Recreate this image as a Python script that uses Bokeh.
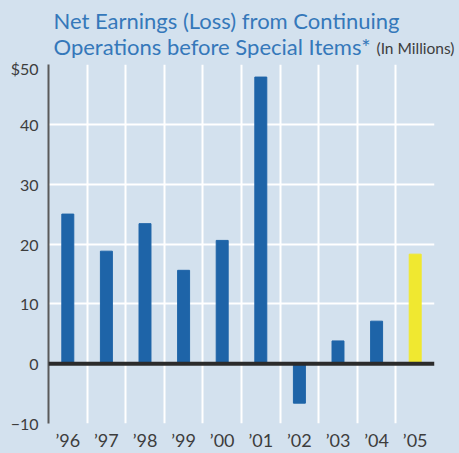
from bokeh.plotting import figure
from bokeh.layouts import column
from bokeh.models import Range1d, FixedTicker, Span, Label, ColumnDataSource
from bokeh.embed import file_html
from bokeh.resources import INLINE

years = ["’96", "’97", "’98", "’99", "’00", "’01", "’02", "’03", "’04", "’05"]
earnings = [25.0, 18.8, 23.4, 15.6, 20.6, 47.9, -6.6, 3.8, 7.1, 18.3]
bar_colors = ["#1e64a8"] * 9 + ["#f0e830"]
y_ticks = [-10, 0, 10, 20, 30, 40, 50]
y_tick_labels = {50: "$50"}
title_line1 = "Net Earnings (Loss) from Continuing"
title_line2 = "Operations before Special Items*"
unit_note = "(In Millions)"

BG = "#d3e1ee"
W = 459
TH = 58

# ---- title strip (its own figure, so the texts are not clipped) ----
t = figure(width=W, height=TH, output_backend="svg", toolbar_location=None, title=None,
           x_range=Range1d(0, W), y_range=Range1d(TH, 0),
           min_border=0, x_axis_type=None, y_axis_type=None)
t.frame_align = False
t.background_fill_color = BG
t.border_fill_color = BG
t.outline_line_color = None
t.grid.visible = False
title_color = "#3578ba"
t.add_layout(Label(x=53, y=20, text=title_line1, text_font="Lato", text_font_size="22px",
                   text_color=title_color, text_baseline="middle"))
t.add_layout(Label(x=53, y=45.5, text=title_line2, text_font="Lato", text_font_size="22px",
                   text_color=title_color, text_baseline="middle"))
t.add_layout(Label(x=376, y=47.5, text=unit_note, text_font="Lato", text_font_size="15.5px",
                   text_color="#3d3d3d", text_baseline="middle"))

# ---- main chart ----
xs = [i + 0.5 for i in range(len(years))]
src = ColumnDataSource(dict(x=xs, top=earnings, color=bar_colors))

p = figure(width=W, height=453 - TH, output_backend="svg", toolbar_location=None, title=None,
           x_range=Range1d(0, len(years)), y_range=Range1d(-10, 50),
           min_border_left=48, min_border_right=25, min_border_top=6, min_border_bottom=28)
p.frame_align = False
p.background_fill_color = BG
p.border_fill_color = BG
p.outline_line_color = None

p.xgrid.ticker = FixedTicker(ticks=list(range(len(years) + 1)))
p.ygrid.ticker = FixedTicker(ticks=y_ticks)
for g in (p.xgrid, p.ygrid):
    g.grid_line_color = "white"
    g.grid_line_width = 2

p.vbar(x="x", top="top", bottom=0, width=0.31, color="color", source=src)

p.add_layout(Span(location=0, dimension="width", line_color="#2b2b2b", line_width=4))

p.yaxis.ticker = FixedTicker(ticks=y_ticks)
p.yaxis.major_label_overrides = {k: v for k, v in y_tick_labels.items()}
p.yaxis.axis_line_color = "#5a5a5a"
p.yaxis.axis_line_width = 2
p.yaxis.major_tick_line_color = None
p.yaxis.minor_tick_line_color = None
p.yaxis.major_tick_out = 0
p.yaxis.major_tick_in = 0
p.yaxis.major_label_text_font = "Lato"
p.yaxis.major_label_text_font_size = "16px"
p.yaxis.major_label_text_color = "#3d3d3d"
p.yaxis.major_label_standoff = 10

p.xaxis.ticker = FixedTicker(ticks=xs)
p.xaxis.major_label_overrides = {x: y for x, y in zip(xs, years)}
p.xaxis.axis_line_color = None
p.xaxis.major_tick_line_color = None
p.xaxis.minor_tick_line_color = None
p.xaxis.major_tick_out = 0
p.xaxis.major_tick_in = 0
p.xaxis.major_label_text_font = "Lato"
p.xaxis.major_label_text_font_size = "18px"
p.xaxis.major_label_text_color = "#3d3d3d"
p.xaxis.major_label_standoff = 5

layout = column(t, p, spacing=0)

html = file_html(layout, INLINE)
html = html.replace("<head>", "<head><style>body{background:%s;}</style>" % BG, 1)
open("out.html", "w").write(html)
